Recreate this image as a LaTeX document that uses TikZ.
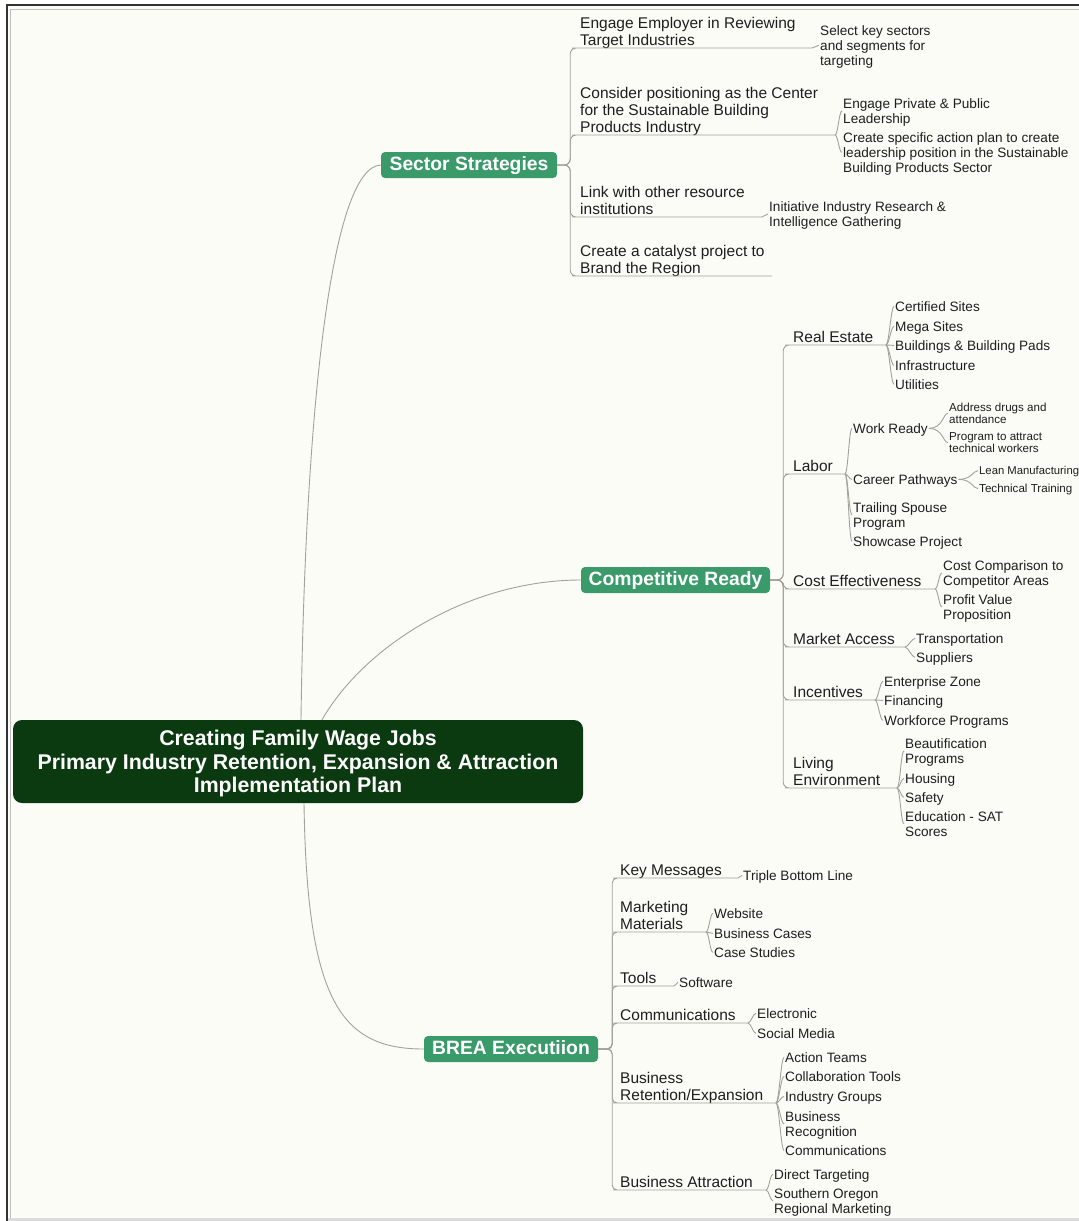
\documentclass[tikz,border=0pt]{standalone}
\usepackage{fontspec}
\setmainfont{Liberation Sans}
\definecolor{bg}{HTML}{FCFCF6}
\definecolor{rootg}{HTML}{0B3A10}
\definecolor{brg}{HTML}{3A9A6A}
\definecolor{ln}{HTML}{A2A29C}
\definecolor{tx}{HTML}{1E1E1E}
\begin{document}
\begin{tikzpicture}[x=1pt,y=-1pt,
  conn/.style={draw=ln,line width=0.9pt},
  rootbox/.style={fill=rootg,rounded corners=9pt,text=white,align=center,
    font=\fontsize{21.3}{23.5}\selectfont\bfseries,minimum width=570pt,minimum height=83pt,inner sep=0pt,text depth=0pt},
  brbox/.style={fill=brg,rounded corners=4pt,text=white,inner xsep=0pt,inner ysep=0pt,
    font=\fontsize{19.3}{22}\selectfont\bfseries,minimum height=26pt,text height=15pt,text depth=4pt},
  lone/.style={anchor=south west,align=left,inner xsep=2pt,inner ysep=2pt,text depth=0pt,text=tx,
    font=\fontsize{15.5}{17}\selectfont},
  ltwo/.style={anchor=south west,align=left,inner xsep=1pt,inner ysep=0pt,text depth=0pt,text=tx,
    font=\fontsize{13.6}{15}\selectfont,yshift=-2pt},
  lthree/.style={ltwo,font=\fontsize{11.6}{12.5}\selectfont},
  brk/.style={conn}
]
\useasboundingbox (0,0) rectangle (1079,1221);
\fill[white] (0,0) rectangle (1079,1221);
\fill[bg] (7,5) rectangle (1079,1218);
\fill[black!14] (7,1218) rectangle (1079,1221);
\draw[black!25,line width=0.8pt] (10.5,1218) -- (10.5,9) -- (1079,9);
\draw[black!80,line width=1.6pt] (7,1221) -- (7,5) -- (1079,5);

% root and main branches
\node[rootbox] (root) at (298,761.5) {Creating Family Wage Jobs\\Primary Industry Retention, Expansion \& Attraction\\Implementation Plan};
\node[brbox,minimum width=176pt] (ss) at (469,165) {Sector Strategies};
\node[brbox,minimum width=189pt] (cr) at (675.5,580) {Competitive Ready};
\node[brbox,minimum width=174pt] (br) at (511,1049) {BREA Executiion};

\draw[conn] ([xshift=3pt]root.north) .. controls (305,420) and (330,167) .. (ss.west);
\draw[conn] ([xshift=24pt]root.north) .. controls (365,645) and (470,580) .. (cr.west);
\draw[conn] ([xshift=6pt]root.south) .. controls (307,1000) and (340,1049) .. (br.west);

% ---------------- Sector Strategies
\node[lone] (s1) at (578,48) {Engage Employer in Reviewing\\Target Industries};
\node[lone] (s2) at (578,135) {Consider positioning as the Center\\for the Sustainable Building\\Products Industry};
\node[lone] (s3) at (578,217) {Link with other resource\\institutions};
\node[lone] (s4) at (578,276) {Create a catalyst project to\\Brand the Region};
\coordinate (j-s1) at (812,48);
\coordinate (j-s2) at (835,135);
\coordinate (j-s3) at (762,217);
\coordinate (j-s4) at (772,276);
\foreach \c in {s1,s2,s3,s4}
  \draw[conn,rounded corners=6pt] (ss.east) -- ++(13,0) |- (\c.south west) -- (j-\c);
\node[ltwo] (s1a) at (819,63.5) {Select key sectors\\and segments for\\targeting};
\node[ltwo] (s2a) at (842,121.5) {Engage Private \& Public\\Leadership};
\node[ltwo] (s2b) at (842,170.5) {Create specific action plan to create\\leadership position in the Sustainable\\Building Products Sector};
\node[ltwo] (s3a) at (768,224.5) {Initiative Industry Research \&\\Intelligence Gathering};
\draw[brk] (j-s1) .. controls +(3,0) and +(-3,0) .. (s1a.west);
\draw[brk] (j-s2) .. controls +(3,0) and +(-3,0) .. (s2a.west);
\draw[brk] (j-s2) .. controls +(3,0) and +(-3,0) .. (s2b.west);
\draw[brk] (j-s3) .. controls +(3,0) and +(-3,0) .. (s3a.west);

% ---------------- Competitive Ready
\node[lone] (re) at (791,345) {Real Estate};
\node[lone] (lb) at (791,474) {Labor};
\node[lone] (ce) at (791,589) {Cost Effectiveness};
\node[lone] (ma) at (791,647) {Market Access};
\node[lone] (in) at (791,700) {Incentives};
\node[lone] (le) at (791,788) {Living\\Environment};
\coordinate (j-re) at (886,345);
\coordinate (j-lb) at (845,474);
\coordinate (j-ce) at (935,589);
\coordinate (j-ma) at (905,647);
\coordinate (j-in) at (875,700);
\coordinate (j-le) at (897,788);
\foreach \c in {re,lb,ce,ma,in,le}
  \draw[conn,rounded corners=6pt] (cr.east) -- ++(13,0) |- (\c.south west) -- (j-\c);

\node[ltwo] (re1) at (894,309.5) {Certified Sites};
\node[ltwo] (re2) at (894,329.5) {Mega Sites};
\node[ltwo] (re3) at (894,348.5) {Buildings \& Building Pads};
\node[ltwo] (re4) at (894,368.5) {Infrastructure};
\node[ltwo] (re5) at (894,387.5) {Utilities};
\foreach \k in {re1,re2,re3,re4,re5}
  \draw[brk] (j-re) .. controls +(3,0) and +(-3,0) .. (\k.west);

\node[ltwo] (wr) at (852,431.5) {Work Ready};
\node[ltwo] (cp) at (852,482.5) {Career Pathways};
\node[ltwo] (ts) at (852,525.5) {Trailing Spouse\\Program};
\node[ltwo] (sp) at (852,544.5) {Showcase Project};
\foreach \k in {wr,cp,ts,sp}
  \draw[brk] (j-lb) .. controls +(3,0) and +(-3,0) .. (\k.west);
\node[lthree] (wr1) at (948,422) {Address drugs and\\attendance};
\node[lthree] (wr2) at (948,451) {Program to attract\\technical workers};
\draw[brk] (wr.east) .. controls +(14,0) and +(-5,0) .. (wr1.west);
\draw[brk] (wr.east) .. controls +(14,0) and +(-5,0) .. (wr2.west);
\node[lthree,font=\fontsize{11.3}{12.5}\selectfont] (cp1) at (978,473) {Lean Manufacturing};
\node[lthree] (cp2) at (978,491) {Technical Training};
\draw[brk] (cp.east) .. controls +(13,0) and +(-5,0) .. (cp1.west);
\draw[brk] (cp.east) .. controls +(13,0) and +(-5,0) .. (cp2.west);

\node[ltwo] (ce1) at (942,583.5) {Cost Comparison to\\Competitor Areas};
\node[ltwo] (ce2) at (942,617.5) {Profit Value\\Proposition};
\foreach \k in {ce1,ce2}
  \draw[brk] (j-ce) .. controls +(3,0) and +(-3,0) .. (\k.west);

\node[ltwo] (ma1) at (915,641.5) {Transportation};
\node[ltwo] (ma2) at (915,660.5) {Suppliers};
\foreach \k in {ma1,ma2}
  \draw[brk] (j-ma) .. controls +(3,0) and +(-3,0) .. (\k.west);

\node[ltwo] (in1) at (883,684.5) {Enterprise Zone};
\node[ltwo] (in2) at (883,703.5) {Financing};
\node[ltwo] (in3) at (883,723.5) {Workforce Programs};
\foreach \k in {in1,in2,in3}
  \draw[brk] (j-in) .. controls +(3,0) and +(-3,0) .. (\k.west);

\node[ltwo] (le1) at (904,761.5) {Beautification\\Programs};
\node[ltwo] (le2) at (904,781.5) {Housing};
\node[ltwo] (le3) at (904,800.5) {Safety};
\node[ltwo] (le4) at (904,834.5) {Education - SAT\\Scores};
\foreach \k in {le1,le2,le3,le4}
  \draw[brk] (j-le) .. controls +(3,0) and +(-3,0) .. (\k.west);

% ---------------- BREA Execution
\node[lone] (km) at (618,878) {Key Messages};
\node[lone] (mm) at (618,932) {Marketing\\Materials};
\node[lone] (tl) at (618,986) {Tools};
\node[lone] (cm) at (618,1023) {Communications};
\node[lone] (bre) at (618,1103) {Business\\Retention/Expansion};
\node[lone] (ba) at (618,1190) {Business Attraction};
\coordinate (j-km) at (738,878);
\coordinate (j-mm) at (706,932);
\coordinate (j-tl) at (674,986);
\coordinate (j-cm) at (748,1023);
\coordinate (j-bre) at (776,1103);
\coordinate (j-ba) at (766,1190);
\foreach \c in {km,mm,tl,cm,bre,ba}
  \draw[conn,rounded corners=5pt] (br.east) -- ++(14,0) |- (\c.south west) -- (j-\c);

\node[ltwo] (km1) at (742,878.5) {Triple Bottom Line};
\draw[brk] (j-km) .. controls +(2,0) and +(-2,0) .. (km1.west);
\node[ltwo] (mm1) at (713,916.5) {Website};
\node[ltwo] (mm2) at (713,936.5) {Business Cases};
\node[ltwo] (mm3) at (713,955.5) {Case Studies};
\foreach \k in {mm1,mm2,mm3}
  \draw[brk] (j-mm) .. controls +(3,0) and +(-3,0) .. (\k.west);
\node[ltwo] (tl1) at (678,985.5) {Software};
\draw[brk] (j-tl) .. controls +(2,0) and +(-2,0) .. (tl1.west);
\node[ltwo] (cm1) at (756,1016.5) {Electronic};
\node[ltwo] (cm2) at (756,1036.5) {Social Media};
\foreach \k in {cm1,cm2}
  \draw[brk] (j-cm) .. controls +(3,0) and +(-3,0) .. (\k.west);
\node[ltwo] (bre1) at (784,1060.5) {Action Teams};
\node[ltwo] (bre2) at (784,1079.5) {Collaboration Tools};
\node[ltwo] (bre3) at (784,1099.5) {Industry Groups};
\node[ltwo] (bre4) at (784,1134.5) {Business\\Recognition};
\node[ltwo] (bre5) at (784,1153.5) {Communications};
\foreach \k in {bre1,bre2,bre3,bre4,bre5}
  \draw[brk] (j-bre) .. controls +(3,0) and +(-3,0) .. (\k.west);
\node[ltwo] (ba1) at (773,1177.5) {Direct Targeting};
\node[ltwo] (ba2) at (773,1211.5) {Southern Oregon\\Regional Marketing};
\foreach \k in {ba1,ba2}
  \draw[brk] (j-ba) .. controls +(3,0) and +(-3,0) .. (\k.west);
\end{tikzpicture}
\end{document}
